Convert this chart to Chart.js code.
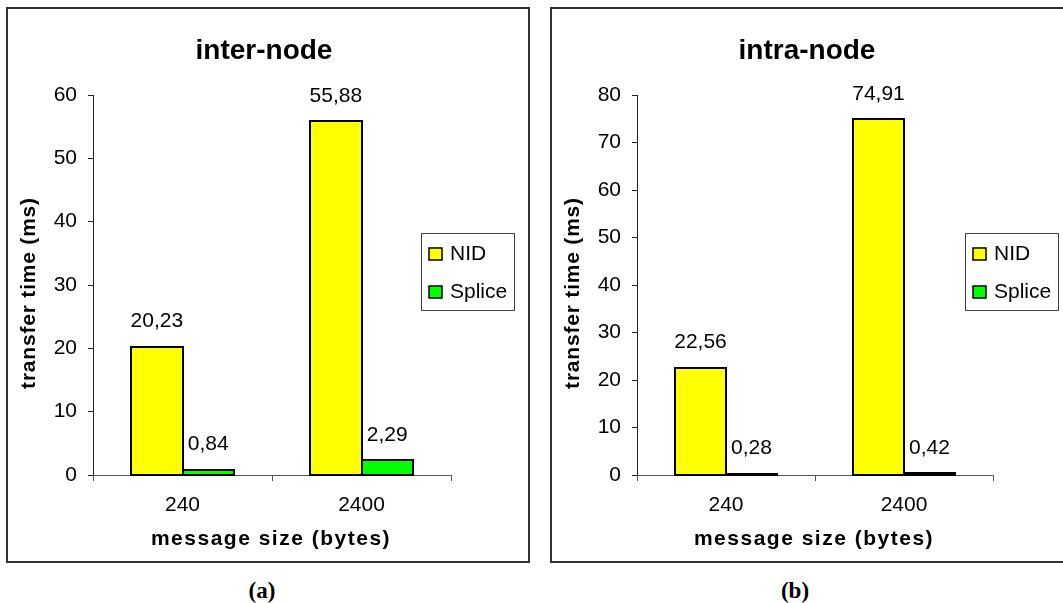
<!DOCTYPE html>
<html><head><meta charset="utf-8">
<script src="https://cdn.jsdelivr.net/npm/chart.js@4/dist/chart.umd.min.js"></script>
<style>
html,body{margin:0;padding:0;background:#fff;width:1063px;height:603px;overflow:hidden;position:relative;font-family:"Liberation Sans",Arial,sans-serif}
canvas{position:absolute}
.cap{position:absolute;font:bold 23px "Liberation Serif","Times New Roman",serif;transform:translate(-50%,-50%);line-height:1;color:#000}
</style></head><body>
<canvas id="c1" width="524" height="556" style="left:6px;top:7px"></canvas>
<canvas id="c2" width="517" height="556" style="left:550px;top:7px"></canvas>
<div class="cap" style="left:262px;top:590px">(a)</div>
<div class="cap" style="left:795px;top:590px">(b)</div>
<script>
// message sizes (bytes) on the category axis
const sizes = ['240', '2400'];
const seriesNames = ['NID', 'Splice'];
// transfer times (ms)
const interNID = [20.23, 55.88];
const interSplice = [0.84, 2.29];
const intraNID = [22.56, 74.91];
const intraSplice = [0.28, 0.42];
const interMax = 60;
const intraMax = 80;
const yStep = 10;

const FONT = '"Liberation Sans", Arial, sans-serif';
const colors = ['#ffff00', '#00ff00'];

// frame, bar outlines, titles, legend and value labels
const decor = {
  id: 'decor',
  beforeDraw(chart) {
    const c = chart.ctx;
    c.save();
    c.fillStyle = '#fff';
    c.fillRect(0, 0, chart.width, chart.height);
    c.restore();
  },
  afterDatasetsDraw(chart) {
    const c = chart.ctx;
    c.save();
    // outlines centred on the bar edges
    c.strokeStyle = '#000';
    c.lineWidth = 2;
    chart.data.datasets.forEach((ds, i) => {
      chart.getDatasetMeta(i).data.forEach((el) => {
        const p = el.getProps(['x', 'y', 'base', 'width'], true);
        const l = Math.round(p.x - p.width / 2);
        const r = Math.round(p.x + p.width / 2);
        const t = Math.round(p.y);
        const b = Math.round(p.base);
        c.strokeRect(l, t, r - l, b - t);
      });
    });
    c.font = '21px ' + FONT;
    c.fillStyle = '#000';
    c.textAlign = 'center';
    c.textBaseline = 'alphabetic';
    chart.data.datasets.forEach((ds, i) => {
      chart.getDatasetMeta(i).data.forEach((el, j) => {
        const t = ds.data[j].toFixed(2).replace('.', ',');
        c.fillText(t, el.x, el.y - 19.5);
      });
    });
    c.restore();
  },
  afterDraw(chart, args, opts) {
    const c = chart.ctx;
    const a = chart.chartArea;
    c.save();
    // outer frame
    c.strokeStyle = '#333';
    c.lineWidth = 2;
    c.strokeRect(1, 1, chart.width - 2, chart.height - 2);
    c.fillStyle = '#000';
    // chart title
    c.font = 'bold 28px ' + FONT;
    c.textAlign = 'center';
    c.textBaseline = 'alphabetic';
    c.fillText(opts.title, (a.left + a.right) / 2 - 8, 52);
    // x axis title
    c.font = 'bold 21px ' + FONT;
    c.letterSpacing = '1.5px';
    c.fillText('message size (bytes)', (a.left + a.right) / 2 - 1, 538);
    // y axis title
    c.save();
    c.translate(23, (a.top + a.bottom) / 2 + 8);
    c.rotate(-Math.PI / 2);
    c.font = 'bold 21px ' + FONT;
    c.letterSpacing = '0.8px';
    c.textBaseline = 'middle';
    c.fillText('transfer time (ms)', 0, 0);
    c.restore();
    c.letterSpacing = '0px';
    // legend
    const lx = 415, ly = 226, lw = 93, lh = 77;
    c.fillStyle = '#fff';
    c.fillRect(lx, ly, lw, lh);
    c.strokeStyle = '#444';
    c.lineWidth = 1;
    c.strokeRect(lx + 0.5, ly + 0.5, lw, lh);
    c.font = '21px ' + FONT;
    c.textAlign = 'left';
    chart.data.datasets.forEach((ds, i) => {
      const sy = 241 + i * 38;
      c.fillStyle = ds.backgroundColor;
      c.fillRect(423, sy, 13, 12);
      c.strokeStyle = '#000';
      c.lineWidth = 1.5;
      c.strokeRect(423, sy, 13, 12);
      c.fillStyle = '#000';
      c.fillText(ds.label, 444, sy + 11.5);
    });
    c.restore();
  }
};

function makeChart(id, title, nid, splice, ymax, padRight) {
  return new Chart(document.getElementById(id), {
    type: 'bar',
    data: {
      labels: sizes,
      datasets: [
        { label: seriesNames[0], data: nid, backgroundColor: colors[0] },
        { label: seriesNames[1], data: splice, backgroundColor: colors[1] }
      ]
    },
    options: {
      responsive: false,
      animation: false,
      devicePixelRatio: 1,
      layout: { padding: { left: 0, right: padRight, top: 88, bottom: 0 } },
      datasets: {
        bar: {
          borderWidth: 0,
          categoryPercentage: 0.573,
          barPercentage: 1
        }
      },
      plugins: {
        legend: { display: false },
        tooltip: { enabled: false },
        decor: { title: title }
      },
      scales: {
        x: {
          afterFit(s) { s.height = 88; },
          border: { color: '#555', width: 1 },
          grid: { display: true, drawOnChartArea: false, offset: true, tickLength: 6, color: '#555' },
          ticks: { color: '#000', font: { family: FONT, size: 21 }, padding: 12, maxRotation: 0 }
        },
        y: {
          min: 0, max: ymax,
          afterFit(s) { s.width = 87; },
          border: { color: '#222', width: 1 },
          grid: { display: true, drawOnChartArea: false, tickLength: 5, color: '#222' },
          ticks: { stepSize: yStep, color: '#000', font: { family: FONT, size: 21 }, padding: 11 }
        }
      }
    },
    plugins: [decor]
  });
}

makeChart('c1', 'inter-node', interNID, interSplice, interMax, 79);
makeChart('c2', 'intra-node', intraNID, intraSplice, intraMax, 74);
</script>
</body></html>
